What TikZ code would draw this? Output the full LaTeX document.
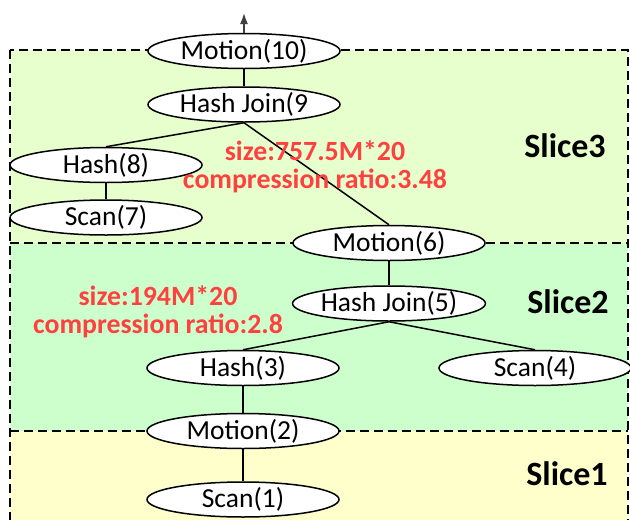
\documentclass[tikz,border=0pt]{standalone}
\usepackage{fontspec}
\setmainfont{Carlito}
\usetikzlibrary{arrows.meta,positioning,shapes.geometric}
\definecolor{slicethree}{RGB}{230,255,204}
\definecolor{slicetwo}{RGB}{204,255,204}
\definecolor{sliceone}{RGB}{255,255,204}
\definecolor{notered}{RGB}{255,64,64}
\definecolor{tipgray}{RGB}{64,64,64}

\begin{document}
\begin{tikzpicture}[x=1pt, y=-1pt, >={Latex[length=11pt,width=8pt]},
  op/.style={draw, ellipse, line width=1.5pt, fill=white, minimum width=192pt,
    minimum height=35pt, inner sep=0pt, font=\fontsize{27.5}{30}\selectfont},
  link/.style={line width=1.5pt},
  note/.style={text=notered, anchor=base, inner sep=0pt,
    font=\bfseries\fontsize{27.8}{28}\selectfont},
  slicelabel/.style={anchor=base, inner sep=0pt, font=\bfseries\fontsize{34}{36}\selectfont}]
  \useasboundingbox (0,0) rectangle (630,520);
  \clip (0,0) rectangle (630,520);

  % slice areas
  \fill[slicethree] (10,50) rectangle (628,243);
  \fill[slicetwo] (10,243) rectangle (628,431);
  \fill[sliceone] (10,431) rectangle (628,540);
  \draw[line width=1.5pt, dash pattern=on 9pt off 5pt] (10,50) rectangle (628,540);
  \draw[line width=1.5pt, dash pattern=on 9pt off 5pt] (10,243) -- (628,243);
  \draw[line width=1.5pt, dash pattern=on 9pt off 5pt] (10,431) -- (628,431);

  % plan operators
  \node[op] (m10) at (244,51) {Motion(10)};
  \node[op, below=17pt of m10] (hj9) {Hash Join(9};
  \node[op] (h8) at (106,165) {Hash(8)};
  \node[op, below=16pt of h8] (s7) {Scan(7)};
  \node[op] (m6) at (389,243) {Motion(6)};
  \node[op, below=24pt of m6] (hj5) {Hash Join(5)};
  \node[op] (h3) at (243,368) {Hash(3)};
  \node[op] (s4) at (535,368) {Scan(4)};
  \node[op] (m2) at (243,431) {Motion(2)};
  \node[op, below=32pt of m2] (s1) {Scan(1)};
  \coordinate (out) at (244,13);

  \draw[->, line width=1.5pt, tipgray] (m10) -- (out);
  \draw[link] (m10) -- (hj9);
  \draw[link] (hj9.south) -- (h8.north);
  \draw[link] (hj9.south) -- (m6.north);
  \draw[link] (h8) -- (s7);
  \draw[link] (m6) -- (hj5);
  \draw[link] (hj5.south) -- (h3.north);
  \draw[link] (hj5.south) -- (s4.north);
  \draw[link] (h3) -- (m2);
  \draw[link] (m2) -- (s1);

  % broadcast sizes
  \node[note] (sz3) at (315,160) {size:757.5M*20};
  \node[note] (cr3) at (315,188) {compression ratio:3.48};
  \node[note] (sz2) at (158,305) {size:194M*20};
  \node[note] (cr2) at (158,333) {compression ratio:2.8};

  \node[slicelabel] (sl3) at (565,157) {Slice3};
  \node[slicelabel] (sl2) at (568,313) {Slice2};
  \node[slicelabel] (sl1) at (567,485) {Slice1};
\end{tikzpicture}
\end{document}
